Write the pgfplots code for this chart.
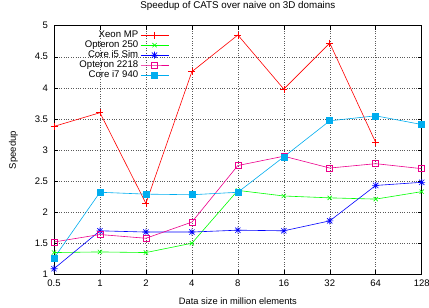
\documentclass[border=0pt]{standalone}
\usepackage{pgfplots}
\pgfplotsset{compat=1.18}
\usepackage{fontspec}
\setmainfont{Liberation Sans}
\pgfdeclareplotmark{gpstar}{%
  \pgfpathmoveto{\pgfqpoint{-\pgfplotmarksize}{0pt}}\pgfpathlineto{\pgfqpoint{\pgfplotmarksize}{0pt}}%
  \pgfpathmoveto{\pgfqpoint{0pt}{-\pgfplotmarksize}}\pgfpathlineto{\pgfqpoint{0pt}{\pgfplotmarksize}}%
  \pgfpathmoveto{\pgfqpoint{-0.75\pgfplotmarksize}{-0.75\pgfplotmarksize}}\pgfpathlineto{\pgfqpoint{0.75\pgfplotmarksize}{0.75\pgfplotmarksize}}%
  \pgfpathmoveto{\pgfqpoint{-0.75\pgfplotmarksize}{0.75\pgfplotmarksize}}\pgfpathlineto{\pgfqpoint{0.75\pgfplotmarksize}{-0.75\pgfplotmarksize}}%
  \pgfusepathqstroke}
\begin{document}
\begin{tikzpicture}
\begin{axis}[
  scale only axis, width=367.7bp, height=248.6bp,
  xmin=0, xmax=8, ymin=1, ymax=5,
  xtick={0,1,2,3,4,5,6,7,8},
  xticklabels={0.5,1,2,4,8,16,32,64,128},
  ytick={1,1.5,2,2.5,3,3.5,4,4.5,5},
  yticklabels={1,1.5,2,2.5,3,3.5,4,4.5,5},
  tick align=inside, tick pos=both, major tick length=4bp,
  every tick/.style={black, line width=0.5bp},
  axis line style={line width=0.9bp},
  grid=major,
  major grid style={black!65, line width=0.5bp, dash pattern=on 0.8bp off 1.6bp},
  font=\fontsize{9.5bp}{11bp}\selectfont,
  /pgf/number format/assume math mode=true,
  xticklabel style={yshift=-2bp},
  yticklabel style={xshift=-2.5bp},
  title={Speedup of CATS over naive on 3D domains},
  title style={at={([yshift=13.7bp]axis description cs:0.5,1)}, anchor=center, font=\fontsize{9.8bp}{11bp}\selectfont},
  xlabel={Data size in million elements},
  xlabel style={at={([yshift=-26.4bp]axis description cs:0.5,0)}, anchor=center, font=\fontsize{9.3bp}{11bp}\selectfont},
  ylabel={Speedup},
  ylabel style={at={([xshift=-40.7bp]axis description cs:0,0.5)}, anchor=center, rotate=0},
  legend style={at={([xshift=116bp,yshift=-2.5bp]axis description cs:0,1)}, anchor=north east,
    draw=none, fill=none, font=\fontsize{9.6bp}{11bp}\selectfont, row sep=-2.4bp, inner sep=1bp},
  legend cell align=right,
  legend plot pos=right,
  legend image code/.code={\draw[mark repeat=2,mark phase=2,#1] plot coordinates {(0bp,0bp) (14bp,0bp) (28bp,0bp)};},
]
\addplot[red, line width=0.6bp, mark=+, mark size=3.5bp, mark options={solid}] coordinates {
(0,3.38) (1,3.60) (2,2.14) (3,4.26) (4,4.85) (5,3.98) (6,4.72) (7,3.12)};
\addlegendentry{Xeon MP}
\addplot[green, line width=0.6bp, mark=x, mark size=3bp, mark options={solid}] coordinates {
(0,1.35) (1,1.36) (2,1.35) (3,1.50) (4,2.35) (5,2.26) (6,2.23) (7,2.21) (8,2.33)};
\addlegendentry{Opteron 250}
\addplot[blue, line width=0.6bp, mark=gpstar, mark size=3.5bp, mark options={solid}] coordinates {
(0,1.09) (1,1.70) (2,1.68) (3,1.68) (4,1.71) (5,1.70) (6,1.86) (7,2.43) (8,2.48)};
\addlegendentry{Core i5 Sim}
\addplot[magenta, line width=0.6bp, mark=square, mark size=3bp, mark options={solid}] coordinates {
(0,1.52) (1,1.64) (2,1.58) (3,1.84) (4,2.75) (5,2.90) (6,2.71) (7,2.78) (8,2.70)};
\addlegendentry{Opteron 2218}
\addplot[cyan, line width=0.6bp, mark=square*, mark size=3bp, mark options={solid, fill=cyan}] coordinates {
(0,1.26) (1,2.32) (2,2.29) (3,2.28) (4,2.32) (5,2.89) (6,3.47) (7,3.55) (8,3.41)};
\addlegendentry{Core i7 940}
\end{axis}
\pgfresetboundingbox
\path[use as bounding box] ([shift={(-54bp,-32.7bp)}]current axis.south west) rectangle ([shift={(7.3bp,25.7bp)}]current axis.north east);
\end{tikzpicture}
\end{document}
